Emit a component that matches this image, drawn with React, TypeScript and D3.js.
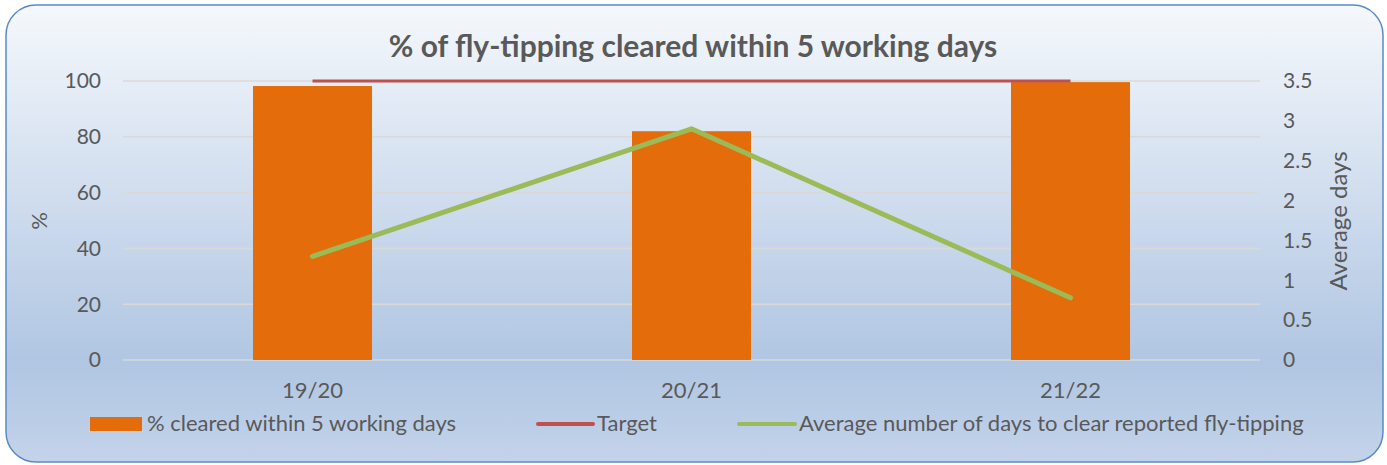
import React from 'react';
import { scaleBand, scaleLinear, line } from 'd3';

const categories = ['19/20', '20/21', '21/22'];
const clearedPct = [98.2, 82, 99.6];
const targetPct = [100, 100, 100];
const avgDays = [1.3, 2.9, 0.78];
const leftTicks = [0, 20, 40, 60, 80, 100];
const rightTicks = [0, 0.5, 1, 1.5, 2, 2.5, 3, 3.5];

const App = () => {
    const width = 1387;
    const height = 465;
    const plotLeft = 123;
    const plotRight = 1260;
    const plotTop = 81;
    const plotBottom = 360;
    const font = 'Lato, "Open Sans", sans-serif';
    const textColor = '#595959';

    const xScale = scaleBand()
        .domain(categories)
        .range([plotLeft, plotRight])
        .padding(0);
    const barWidth = xScale.bandwidth() * 0.314;

    const yLeft = scaleLinear().domain([0, 100]).range([plotBottom, plotTop]);
    const yRight = scaleLinear().domain([0, 3.5]).range([plotBottom, plotTop]);

    const cx = (c: string) => (xScale(c) as number) + xScale.bandwidth() / 2;

    const targetLine = line<number>()
        .x((_, i) => cx(categories[i]))
        .y(d => yLeft(d));
    const daysLine = line<number>()
        .x((_, i) => cx(categories[i]))
        .y(d => yRight(d));

    return (
        <svg width={width} height={height} style={{ position: 'absolute', left: 0, top: 0 }} fontFamily={font}>
            <defs>
                <linearGradient id="bg" x1="0" y1="0" x2="0" y2="1">
                    <stop offset="0" stopColor="#F5F8FC" />
                    <stop offset="0.78" stopColor="#B0C6E2" />
                    <stop offset="1" stopColor="#C3D3EA" />
                </linearGradient>
            </defs>
            <rect x={6} y={5} width={1377} height={457} rx={30} ry={30}
                fill="url(#bg)" stroke="#5A8AC6" strokeWidth={1.5} />

            <text x={693} y={57} textAnchor="middle" fontSize={30} fontWeight="bold" fill="#595959">
                % of fly-tipping cleared within 5 working days
            </text>

            {leftTicks.map(t =>
                <g key={`grid-${t}`}>
                    <line x1={plotLeft} x2={plotRight} y1={yLeft(t)} y2={yLeft(t)} stroke="#D9D9D9" strokeWidth={1.5} />
                    <text x={101} y={yLeft(t)} dy="0.35em" textAnchor="end" fontSize={21} fill={textColor}>{t}</text>
                </g>
            )}
            {rightTicks.map(t =>
                <text key={`r-${t}`} x={1283} y={yRight(t)} dy="0.35em" textAnchor="start" fontSize={21} fill={textColor}>{t}</text>
            )}

            <text transform="translate(47, 221) rotate(-90)" textAnchor="middle" fontSize={22} fill={textColor}>%</text>
            <text transform="translate(1347, 221) rotate(-90)" textAnchor="middle" fontSize={24} fill={textColor}>Average days</text>

            {categories.map((c, i) =>
                <g key={`bar-${c}`}>
                    <rect x={cx(c) - barWidth / 2} y={yLeft(clearedPct[i])} width={barWidth}
                        height={yLeft(0) - yLeft(clearedPct[i])} fill="#E46C0A" />
                    <text x={cx(c)} y={398} textAnchor="middle" fontSize={22} fill={textColor}>{c}</text>
                </g>
            )}

            <path d={targetLine(targetPct) ?? ''} fill="none" stroke="#C0504D" strokeWidth={3} />
            <path d={daysLine(avgDays) ?? ''} fill="none" stroke="#9BBB59" strokeWidth={5} strokeLinecap="round" strokeLinejoin="round" />

            <g fontSize={22} fill={textColor}>
                <rect x={90} y={417} width={52} height={14} fill="#E46C0A" />
                <text x={147} y={431}>% cleared within 5 working days</text>
                <line x1={538} x2={593} y1={424} y2={424} stroke="#C0504D" strokeWidth={4} strokeLinecap="round" />
                <text x={597} y={431}>Target</text>
                <line x1={739} x2={795} y1={424} y2={424} stroke="#9BBB59" strokeWidth={4} strokeLinecap="round" />
                <text x={799} y={431}>Average number of days to clear reported fly-tipping</text>
            </g>
        </svg>
    );
};

export default App;
